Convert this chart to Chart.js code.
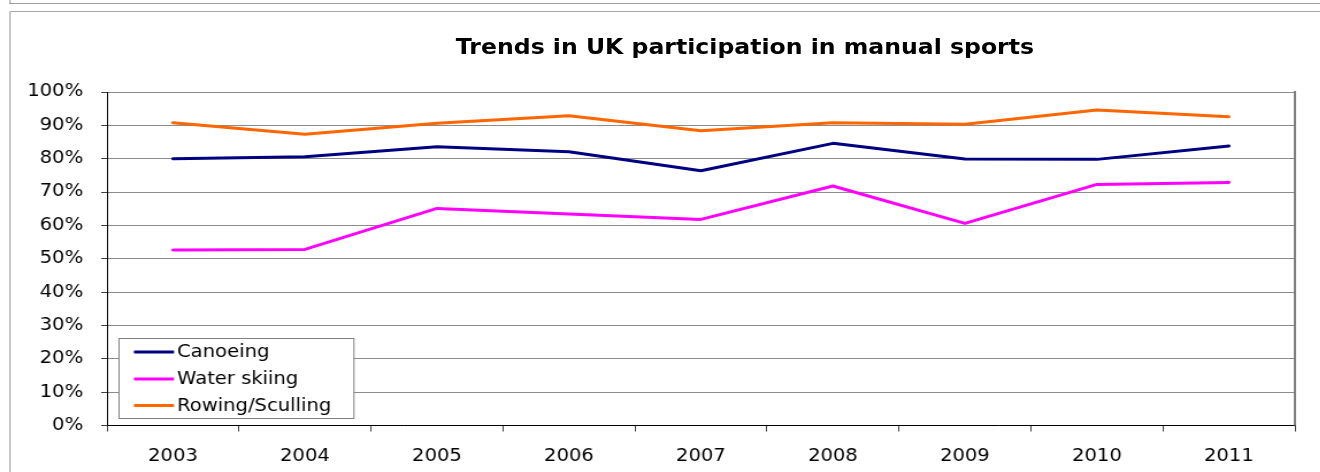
<!DOCTYPE html>
<html><head><meta charset="utf-8">
<script src="https://cdn.jsdelivr.net/npm/chart.js@4/dist/chart.umd.min.js"></script>
<style>
html,body{margin:0;padding:0;background:#fff;overflow:hidden;}
#stage{position:relative;width:1320px;height:472px;overflow:hidden;background:#fff;}
.ln{position:absolute;}
#wrap{position:absolute;left:0;top:0;width:1148px;height:472px;transform:scaleX(1.15);transform-origin:0 0;}
#title{position:absolute;top:35px;left:347.8px;width:600px;text-align:center;font-family:Verdana,"DejaVu Sans",sans-serif;font-weight:bold;font-size:20.5px;line-height:24px;color:#000;white-space:nowrap;}
</style>
</head>
<body>
<div id="stage">
  <div id="wrap">
    <canvas id="c" width="1148" height="472"></canvas>
    <div id="title">Trends in UK participation in manual sports</div>
  </div>
  <div class="ln" style="left:9px;top:0;width:2px;height:3px;background:#c8c8c8"></div>
  <div class="ln" style="left:9px;top:3px;right:0;height:1px;background:#a0a0a0"></div>
  <div class="ln" style="left:9px;top:11px;right:0;height:1px;background:#a8a8a8"></div>
  <div class="ln" style="left:9px;top:11px;width:2px;height:461px;background:#c8c8c8"></div>
</div>
<script>
const categories = ['2003','2004','2005','2006','2007','2008','2009','2010','2011'];
const canoeing    = [80.0, 80.6, 83.6, 82.1, 76.4, 84.6, 79.9, 79.8, 83.8];
const waterSkiing = [52.6, 52.8, 65.1, 63.4, 61.8, 71.8, 60.6, 72.3, 72.9];
const rowing      = [90.8, 87.3, 90.6, 92.9, 88.4, 90.8, 90.3, 94.6, 92.6];
const seriesNames = ['Canoeing', 'Water skiing', 'Rowing/Sculling'];
const seriesColors = ['#000080', '#FF00FF', '#FF6600'];
const yMin = 0, yMax = 100, yStep = 10;

const FONT = 'Verdana, "DejaVu Sans", sans-serif';

const frameAndLegend = {
  id: 'frameAndLegend',
  afterDraw(chart) {
    const ctx = chart.ctx;
    const a = chart.chartArea;
    ctx.save();
    ctx.strokeStyle = '#808080';
    ctx.lineWidth = 2;
    ctx.beginPath();
    ctx.moveTo(a.right, a.top - 1);
    ctx.lineTo(a.right, a.bottom);
    ctx.stroke();
    const lx = a.left + 10.5, ly = 338.5, lw = 204.3, lh = 80;
    ctx.fillStyle = '#fff';
    ctx.fillRect(lx, ly, lw, lh);
    ctx.strokeStyle = '#808080';
    ctx.lineWidth = 1;
    ctx.strokeRect(lx, ly, lw, lh);
    const rows = [352, 379, 405.5];
    ctx.font = '17px ' + FONT;
    ctx.textBaseline = 'middle';
    ctx.textAlign = 'left';
    chart.data.datasets.forEach((ds, i) => {
      const y = rows[i];
      ctx.strokeStyle = ds.borderColor;
      ctx.lineWidth = 3;
      ctx.beginPath();
      ctx.moveTo(a.left + 23.5, y);
      ctx.lineTo(a.left + 58.3, y);
      ctx.stroke();
      ctx.fillStyle = '#000';
      ctx.fillText(ds.label, a.left + 61, y + 1);
    });
    ctx.restore();
  }
};

const datasets = [canoeing, waterSkiing, rowing].map((vals, i) => ({
  label: seriesNames[i],
  data: vals,
  borderColor: seriesColors[i],
  backgroundColor: seriesColors[i],
  borderWidth: 3,
  pointRadius: 0,
  tension: 0,
  fill: false,
  borderJoinStyle: 'round',
  borderCapStyle: 'round'
}));

new Chart(document.getElementById('c'), {
  type: 'line',
  data: { labels: categories, datasets },
  options: {
    responsive: false,
    animation: false,
    layout: { padding: { left: 0, right: 22, top: 92, bottom: 8 } },
    plugins: {
      legend: { display: false },
      title: { display: false },
      tooltip: { enabled: false }
    },
    scales: {
      x: {
        type: 'category',
        offset: true,
        afterFit(scale) { scale.height = 38.5; },
        grid: { offset: true, drawOnChartArea: false, drawTicks: true, tickLength: 6, tickColor: '#404040' },
        border: { display: true, color: '#000', width: 1 },
        ticks: { color: '#000', padding: 15, maxRotation: 0, autoSkip: false, font: { family: FONT, size: 17 } }
      },
      y: {
        min: yMin, max: yMax,
        afterFit(scale) { scale.width = 93; },
        grid: { color: '#8c8c8c', lineWidth: 1, tickLength: 5, tickColor: '#404040' },
        border: { display: true, color: '#000', width: 1 },
        ticks: { stepSize: yStep, color: '#000', padding: 15.7, font: { family: FONT, size: 17 }, callback: v => v + '%' }
      }
    }
  },
  plugins: [frameAndLegend]
});
</script>
</body></html>
